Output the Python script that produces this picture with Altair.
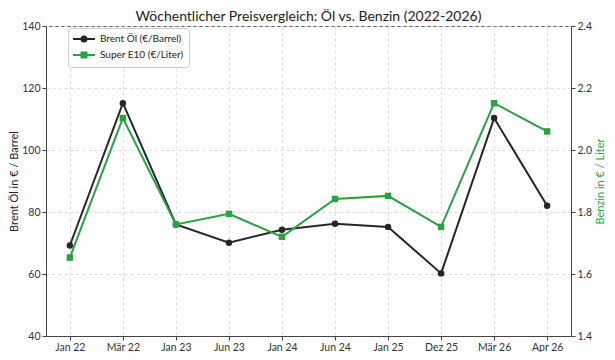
import altair as alt
import pandas as pd

months = ["Jan 22", "Mär 22", "Jan 23", "Jun 23", "Jan 24", "Jun 24", "Jan 25", "Dez 25", "Mär 26", "Apr 26"]
brent = [69.2, 115.1, 76.0, 70.1, 74.3, 76.2, 75.2, 60.2, 110.3, 82.0]
super_e10 = [1.653, 2.103, 1.76, 1.794, 1.72, 1.842, 1.852, 1.752, 2.151, 2.06]

series = ["Brent Öl (€/Barrel)", "Super E10 (€/Liter)"]
colors = ["#262626", "#2ca043"]
left_ticks = [40, 60, 80, 100, 120, 140]
right_ticks = [1.4, 1.6, 1.8, 2.0, 2.2, 2.4]

# legend symbols: a short line with the marker on it
legend_shapes = [
    "M-1.2,0H3.2M1.5,0A0.5,0.5 0 1,1 0.5,0A0.5,0.5 0 1,1 1.5,0Z",
    "M-1.2,0H3.2M0.5,-0.5H1.5V0.5H0.5Z",
]

df = pd.DataFrame({"month": months, "brent": brent, "super": super_e10})

FONT = "Lato"

x_enc = alt.X(
    "month:N",
    sort=months,
    title=None,
    scale=alt.Scale(type="point", padding=0.45),
    axis=alt.Axis(labelAngle=0, grid=True, gridDash=[3, 3], gridColor="#dedede", labelPadding=2),
)

y_left = alt.Y(
    "brent:Q",
    title="Brent Öl in € / Barrel",
    scale=alt.Scale(domain=[40, 140], nice=False, zero=False),
    axis=alt.Axis(values=left_ticks, orient="left", grid=True, gridDash=[3, 3], gridColor="#dedede",
                  titlePadding=2, labelPadding=2),
)
y_right = alt.Y(
    "super:Q",
    title="Benzin in € / Liter",
    scale=alt.Scale(domain=[1.4, 2.4], nice=False, zero=False),
    axis=alt.Axis(values=right_ticks, orient="right", format=".1f", grid=False,
                  titleColor=colors[1], titlePadding=3, labelPadding=2,
                  titleAngle=270, titleBaseline="top"),
)

base = alt.Chart(df)

b_line = base.mark_line(color=colors[0], strokeWidth=2).encode(x=x_enc, y=y_left)
b_pts = base.mark_point(color=colors[0], filled=True, shape="circle", size=42, opacity=1).encode(x=x_enc, y=y_left)

legend_layer = (
    alt.Chart(pd.DataFrame({"series": series}))
    .mark_point(filled=True, opacity=1)
    .encode(
        fill=alt.Fill("series:N", title=None, scale=alt.Scale(domain=series, range=colors)),
        stroke=alt.Stroke("series:N", title=None, scale=alt.Scale(domain=series, range=colors)),
        shape=alt.Shape("series:N", title=None, scale=alt.Scale(domain=series, range=legend_shapes)),
    )
    .transform_filter("false")
)

s_line = base.mark_line(color=colors[1], strokeWidth=2).encode(x=x_enc, y=y_right)
s_pts = base.mark_point(color=colors[1], filled=True, shape="square", size=42, opacity=1).encode(x=x_enc, y=y_right)

left = alt.layer(b_line, b_pts, legend_layer)
right = alt.layer(s_line, s_pts)

chart = (
    alt.layer(left, right)
    .resolve_scale(y="independent")
    .properties(
        width=525,
        height=310,
        autosize=alt.AutoSizeParams(type="none"),
        padding={"left": 38, "top": 18, "right": 36, "bottom": 16},
        title=alt.TitleParams(
            "Wöchentlicher Preisvergleich: Öl vs. Benzin (2022-2026)",
            font=FONT, fontSize=14, fontWeight="normal", color="#222", offset=-3, anchor="middle",
        ),
    )
    .configure_view(stroke="#666", strokeWidth=1)
    .configure_axis(
        labelFont=FONT, labelFontSize=10.5, labelColor="#333",
        titleFont=FONT, titleFontSize=11, titleFontWeight="normal", titleColor="#222",
        tickColor="#444", tickSize=4, domainColor="#444",
    )
    .configure_legend(
        orient="none", legendX=22, legendY=2,
        strokeColor="#cccccc", fillColor="white", cornerRadius=3, padding=5,
        labelFont=FONT, labelFontSize=10, labelColor="#222", labelOffset=15,
        symbolSize=100, symbolStrokeWidth=2, rowPadding=2,
    )
)

chart.save("out.html", embed_options={"renderer": "svg", "actions": False})
